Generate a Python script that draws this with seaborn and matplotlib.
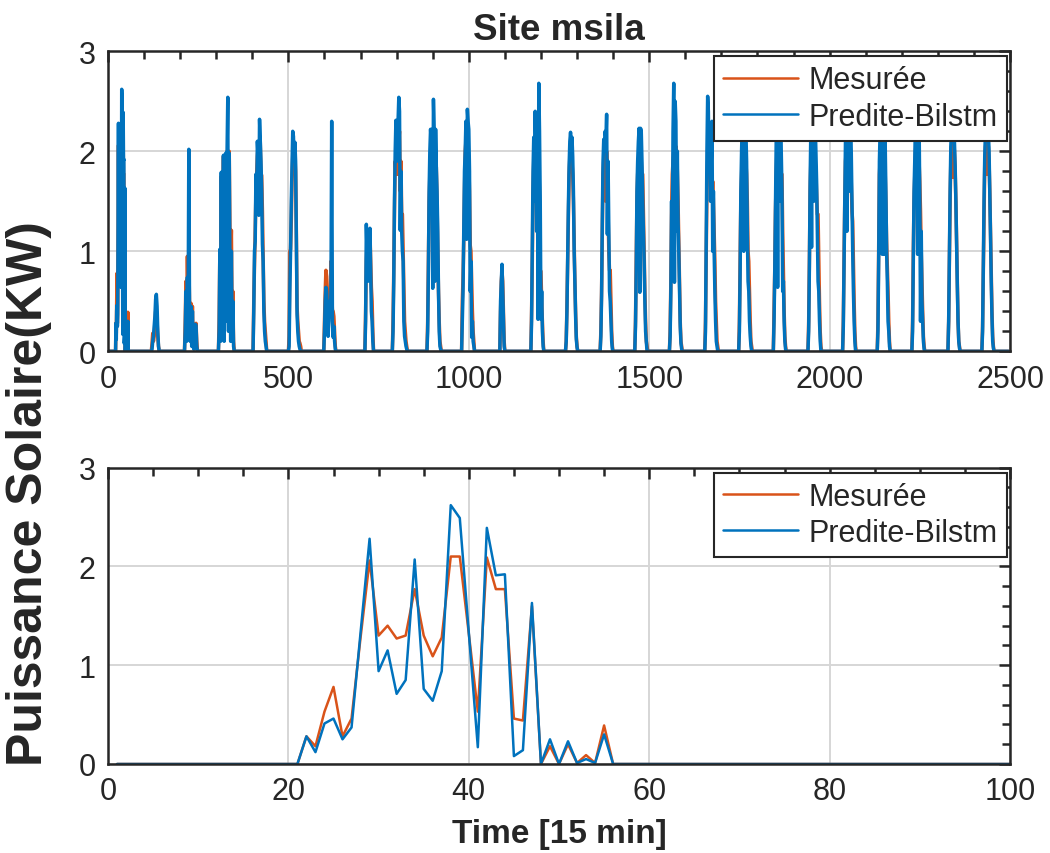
import numpy as np
import pandas as pd
import matplotlib
matplotlib.use("Agg")
import matplotlib.pyplot as plt
from matplotlib.ticker import MultipleLocator
import seaborn as sns

# ---------------------------------------------------------------------------
# Data: solar power (kW) at 15-minute steps, site M'Sila
# ---------------------------------------------------------------------------
STEPS_PER_DAY = 96
SLOT = 2                       # sampling step (in 15-min steps) of the daily profiles
N_STEPS = 2496

# First day, every 15-min step from step 21 to 56 (zero before and after)
day0_first_step = 21
day0_mesuree = [0, 0.28, 0.18, 0.53, 0.78, 0.28, 0.46, 1.28, 2.06, 1.30, 1.40, 1.27,
                1.30, 1.77, 1.30, 1.09, 1.28, 2.10, 2.10, 1.32, 0.53, 2.09, 1.77, 1.77,
                0.46, 0.44, 1.60, 0, 0.18, 0, 0.20, 0.01, 0.09, 0.01, 0.39, 0]
day0_predite = [0, 0.28, 0.12, 0.41, 0.46, 0.25, 0.37, 1.33, 2.28, 0.94, 1.15, 0.71,
                0.85, 2.07, 0.76, 0.64, 0.94, 2.62, 2.49, 1.33, 0.17, 2.39, 1.91, 1.92,
                0.08, 0.14, 1.63, 0, 0.25, 0, 0.23, 0.01, 0.05, 0.01, 0.30, 0]

# Following days: first daylight step of each day, then values every SLOT steps
day_start = [20, 20, 18, 18, 20, 22, 40, 20, 20, 20, 30, 20, 20,
             20, 20, 20, 22, 20, 20, 20, 20, 20, 20, 24, 22]

mesuree_days = [
    [0, 0, 0, 0.08, 0.18, 0.1, 0.15, 0.3, 0.4, 0.42, 0.3, 0.15, 0.05, 0, 0],
    [0, 0.3, 0.7, 0.3, 0.95, 0.5, 0.9, 0.5, 0.2, 0.48, 0.1, 0.45, 0.1, 0.05, 0.15, 0.25, 0.28, 0.1, 0],
    [0, 0.3, 1.0, 0.5, 1.75, 0.4, 1.0, 1.95, 0.3, 1.0, 1.96, 0.8, 2.0, 1.9, 0.6, 2.0, 1.21, 0.9, 1.21, 0.3, 0.6, 0.1, 0],
    [0, 0.5, 0.83, 1.2, 1.6, 1.77, 1.95, 2.05, 1.4, 2.05, 2.1, 1.76, 1.76, 1.4, 0.97, 0.5, 0.3, 0.2, 0.1, 0],
    [0, 0.15, 1.0, 1.02, 1.3, 1.7, 1.95, 2.05, 2.0, 1.98, 1.8, 1.2, 0.45, 0.3, 0.2, 0.1, 0.08, 0.05, 0],
    [0, 0.3, 0.6, 0.81, 0.75, 0.5, 0.3, 0.45, 0.6, 0.5, 0.9, 0.6, 0.41, 0.4, 0.35, 0.2, 0.05, 0],
    [0, 0.4, 0.9, 1.1, 1.2, 1.15, 1.1, 1.2, 0.9, 0.64, 0.5, 0.2, 0],
    [0, 0.3, 0.8, 1.4, 1.9, 1.77, 2.0, 1.77, 1.9, 2.1, 2.2, 1.6, 1.9, 1.37, 1.37, 1.0, 0.6, 0.3, 0.2, 0.1, 0.05, 0],
    [0, 0.3, 0.9, 1.5, 1.76, 1.9, 2.0, 2.1, 1.8, 2.05, 2.1, 1.9, 1.76, 1.84, 1.5, 1.0, 0.6, 0.3, 0.1, 0.05, 0],
    [0, 0.5, 0.74, 1.1, 1.6, 2.0, 2.1, 2.2, 2.1, 2.0, 1.9, 1.6, 1.06, 1.0, 0.7, 0.4, 0.2, 0.1, 0],
    [0, 0.4, 0.7, 0.8, 0.7, 0.4, 0.1, 0],
    [0, 0.40, 0.9, 1.6, 1.9, 2.0, 2.05, 2.1, 2.0, 2.1, 2.1, 1.9, 1.6, 0.81, 0.8, 0.5, 0.3, 0.1, 0],
    [0, 0.1, 0.45, 0.9, 1.4, 1.77, 1.94, 2.0, 1.94, 1.9, 1.77, 1.5, 1.1, 0.7, 0.4, 0.15, 0.05, 0, 0],
    [0, 0.2, 0.6, 1.2, 1.77, 1.9, 2.0, 2.1, 1.5, 2.0, 1.8, 1.4, 1.0, 0.81, 0.81, 0.5, 0.2, 0.05, 0],
    [0, 0.3, 0.9, 1.5, 1.77, 1.9, 2.0, 2.05, 1.77, 1.9, 1.77, 1.77, 1.4, 1.0, 0.6, 0.3, 0.1, 0.05, 0],
    [0, 0.2, 0.7, 1.4, 1.77, 1.9, 2.0, 2.1, 2.0, 2.05, 2.0, 1.8, 1.5, 1.1, 0.7, 0.3, 0.1, 0.05, 0],
    [0, 0.3, 1.0, 1.6, 1.9, 2.0, 2.1, 2.05, 1.76, 1.76, 1.5, 1.7, 1.5, 1.2, 0.9, 0.5, 0.3, 0.1, 0.05, 0],
    [0, 0.3, 0.9, 1.5, 1.77, 2.0, 2.1, 2.2, 2.1, 2.0, 1.9, 1.77, 1.5, 1.0, 0.9, 0.6, 0.3, 0.1, 0.05, 0],
    [0, 0.4, 0.82, 1.4, 1.77, 2.0, 2.1, 2.2, 2.0, 2.1, 1.9, 1.77, 1.77, 1.2, 0.8, 0.4, 0.15, 0.05, 0],
    [0, 0.3, 0.9, 1.6, 1.9, 2.0, 2.1, 2.2, 2.1, 2.0, 1.9, 1.8, 1.6, 1.37, 1.37, 0.9, 0.5, 0.2, 0.05, 0],
    [0, 0.3, 0.9, 1.5, 1.9, 2.0, 2.1, 2.2, 2.15, 2.1, 2.0, 1.9, 1.7, 1.4, 1.3, 0.9, 0.5, 0.2, 0.05, 0],
    [0, 0.3, 1.0, 1.77, 1.9, 2.0, 2.1, 2.15, 2.1, 2.0, 1.95, 1.8, 1.5, 1.1, 0.86, 0.6, 0.3, 0.1, 0],
    [0, 0.3, 1.0, 1.5, 1.77, 2.0, 2.1, 2.2, 2.1, 2.0, 1.9, 1.7, 1.4, 1.0, 0.7, 0.4, 0.15, 0.05, 0],
    [0, 0.3, 0.9, 1.5, 1.9, 2.05, 1.77, 1.74, 2.1, 2.0, 1.8, 1.5, 1.1, 0.7, 0.3, 0.1, 0.05, 0],
    [0, 0.25, 0.8, 1.4, 1.85, 2.05, 2.1, 1.77, 1.77, 2.05, 1.9, 1.6, 1.2, 0.8, 0.4, 0.15, 0.05, 0],
]

predite_days = [
    [0, 0, 0, 0.02, 0.1, 0.15, 0.25, 0.35, 0.52, 0.57, 0.45, 0.2, 0.05, 0, 0],
    [0, 0.2, 0.6, 0.1, 0.74, 0.3, 2.02, 0.4, 0.1, 0.45, 0.05, 0.4, 0.05, 0.02, 0.1, 0.27, 0.26, 0.05, 0],
    [0, 0.2, 1.02, 0.1, 1.79, 0.2, 0.9, 1.96, 0.1, 0.95, 1.98, 0.3, 2.0, 2.54, 0.2, 1.98, 0.8, 0.1, 1.0, 0.15, 0.5, 0.05, 0],
    [0, 0.4, 1.0, 1.1, 1.77, 1.5, 2.1, 1.95, 1.36, 2.32, 2.1, 1.9, 1.6, 1.07, 0.9, 0.4, 0.2, 0.1, 0.05, 0],
    [0, 0.05, 0.6, 1.0, 1.5, 1.85, 2.2, 2.15, 1.9, 2.09, 1.9, 1.1, 0.37, 0.2, 0.1, 0.05, 0.02, 0, 0],
    [0, 0.2, 0.5, 0.64, 0.6, 0.4, 0.15, 0.3, 0.5, 0.35, 0.6, 2.30, 0.3, 0.14, 0.25, 0.1, 0.02, 0],
    [0, 0.3, 1.27, 1.0, 0.7, 1.2, 0.9, 1.23, 0.8, 0.4, 0.3, 0.1, 0],
    [0, 0.2, 0.7, 1.5, 2.0, 2.31, 1.9, 2.2, 2.31, 2.54, 2.4, 1.21, 1.8, 1.2, 1.0, 0.9, 0.3, 0.15, 0.1, 0.05, 0.02, 0],
    [0, 0.2, 0.8, 1.6, 2.0, 2.22, 2.1, 2.22, 0.63, 2.52, 2.2, 0.7, 2.22, 1.84, 1.6, 1.2, 0.6, 0.2, 0.05, 0.02, 0],
    [0, 0.3, 0.6, 1.2, 1.8, 2.0, 2.3, 1.12, 2.42, 2.3, 2.22, 1.8, 0.6, 0.9, 0.14, 0.3, 0.1, 0.05, 0],
    [0, 0.5, 0.69, 0.87, 0.6, 0.3, 0.05, 0],
    [0, 0.3, 1.0, 1.8, 2.14, 1.5, 2.40, 1.9, 1.2, 2.0, 0.32, 2.68, 2.2, 1.5, 0.32, 0.6, 0.2, 0.05, 0],
    [0, 0.1, 0.4, 0.95, 1.45, 1.85, 2.1, 2.19, 2.05, 2.14, 1.95, 1.6, 1.0, 0.7, 0.35, 0.12, 0.04, 0, 0],
    [0, 0.15, 0.55, 1.3, 1.9, 2.12, 2.0, 2.2, 2.1, 2.37, 1.17, 1.9, 1.2, 0.6, 0.5, 0.3, 0.1, 0.02, 0],
    [0, 0.25, 0.8, 1.6, 1.9, 2.1, 2.23, 0.59, 2.23, 2.2, 1.9, 1.5, 1.2, 0.9, 0.5, 0.2, 0.1, 0, 0],
    [0, 0.15, 0.6, 1.5, 1.04, 2.2, 2.68, 0.69, 2.5, 2.3, 1.2, 2.0, 1.3, 1.0, 0.6, 0.25, 0.08, 0.02, 0],
    [0, 0.2, 1.1, 2.0, 2.55, 2.4, 1.8, 2.2, 1.5, 1.9, 2.3, 1.0, 1.6, 1.0, 0.6, 0.3, 0.1, 0.05, 0, 0],
    [0, 0.2, 0.8, 1.6, 2.0, 2.3, 2.4, 1.0, 2.3, 2.4, 2.2, 1.9, 1.2, 0.7, 0.6, 0.3, 0.15, 0.05, 0, 0],
    [0, 0.3, 0.8, 1.5, 2.1, 2.3, 0.64, 2.4, 2.3, 1.5, 2.3, 2.0, 1.6, 0.6, 0.7, 0.3, 0.1, 0.02, 0],
    [0, 0.2, 0.85, 1.7, 2.2, 1.04, 2.4, 2.3, 1.5, 2.4, 2.3, 2.0, 1.7, 1.2, 0.7, 0.6, 0.3, 0.1, 0, 0],
    [0, 0.25, 0.9, 1.6, 2.1, 2.3, 1.2, 2.4, 2.3, 2.2, 1.6, 2.3, 2.0, 1.5, 1.0, 0.6, 0.3, 0.1, 0, 0],
    [0, 0.2, 0.9, 1.9, 2.2, 2.3, 2.4, 0.97, 2.3, 2.2, 0.97, 2.1, 1.6, 1.0, 0.7, 0.3, 0.2, 0.05, 0],
    [0, 0.2, 0.9, 1.6, 1.9, 2.3, 2.4, 2.3, 0.97, 2.2, 2.3, 1.5, 0.3, 1.2, 0.5, 0.3, 0.1, 0.02, 0],
    [0, 0.3, 0.95, 1.6, 2.05, 2.25, 2.3, 2.3, 2.25, 2.1, 1.85, 1.5, 1.05, 0.65, 0.3, 0.1, 0.03, 0],
    [0, 0.2, 0.85, 1.5, 1.95, 2.2, 2.3, 2.35, 2.3, 2.2, 2.0, 1.6, 1.15, 0.7, 0.35, 0.1, 0.03, 0],
]

series_names = ["Mesurée", "Predite-Bilstm"]
series_colors = ["#D95319", "#0072BD"]


def full_series(day0_vals, day_vals):
    """Assemble the whole record: first day at every step, then the daily profiles."""
    steps = [0] + [day0_first_step + k for k in range(len(day0_vals))]
    power = [0.0] + list(day0_vals)
    for d, (start, vals) in enumerate(zip(day_start, day_vals), start=1):
        for k, v in enumerate(vals):
            steps.append(d * STEPS_PER_DAY + start + SLOT * k)
            power.append(v)
    steps.append(N_STEPS)
    power.append(0.0)
    return pd.DataFrame({"step": steps, "power": power})


def first_day(day0_vals):
    steps = np.arange(1, 101)
    power = np.zeros(100)
    power[day0_first_step - 1:day0_first_step - 1 + len(day0_vals)] = day0_vals
    return pd.DataFrame({"step": steps, "power": power})


top_frames = [full_series(day0_mesuree, mesuree_days),
              full_series(day0_predite, predite_days)]
zoom_frames = [first_day(day0_mesuree), first_day(day0_predite)]

# ---------------------------------------------------------------------------
# Style
# ---------------------------------------------------------------------------
sns.set_style("white")
plt.rcParams["font.family"] = ["Liberation Sans", "DejaVu Sans"]
plt.rcParams["axes.linewidth"] = 1.8

TICK_FS = 22

fig = plt.figure(figsize=(10.5, 8.54), dpi=100)
W, H = 1050.0, 854.0
ax_top = fig.add_axes([108 / W, 1 - 352.3 / H, 902 / W, 300 / H])
ax_bot = fig.add_axes([108 / W, 1 - 765.0 / H, 902 / W, 296.4 / H])


def draw(ax, frames, xmax, xmajor, xminor, lw):
    for df, name, color in zip(frames, series_names, series_colors):
        sns.lineplot(data=df, x="step", y="power", ax=ax, color=color,
                     linewidth=lw, label=name, estimator=None, sort=False)
    ax.set_xlim(0, xmax)
    ax.set_ylim(0, 3)
    ax.xaxis.set_major_locator(MultipleLocator(xmajor))
    ax.xaxis.set_minor_locator(MultipleLocator(xminor))
    ax.yaxis.set_major_locator(MultipleLocator(1))
    ax.yaxis.set_minor_locator(MultipleLocator(0.2))
    ax.grid(True, which="major", color="#d6d6d6", linewidth=1.4)
    ax.set_axisbelow(True)
    ax.tick_params(which="both", direction="in", top=True, right=True,
                   color="#262626", width=1.8, labelsize=TICK_FS, labelcolor="#262626")
    ax.tick_params(which="major", length=8, pad=9)
    ax.tick_params(which="minor", length=5.5)
    for sp in ax.spines.values():
        sp.set_color("#262626")
        sp.set_linewidth(1.8)
        sp.set_zorder(3)
    ax.set_xlabel("")
    ax.set_ylabel("")
    leg = ax.legend(loc="upper right", bbox_to_anchor=(1 - 3 / 902, 1 - 5 / 300),
                    borderaxespad=0, fontsize=TICK_FS, frameon=True, fancybox=False,
                    framealpha=1, edgecolor="#262626", handlelength=2.45,
                    handletextpad=0.35, borderpad=0.3, labelspacing=0.2)
    for line in leg.get_lines():
        line.set_linewidth(1.8)
    leg.get_frame().set_linewidth(1.5)
    leg.set_zorder(5)


draw(ax_top, top_frames, 2500, 500, 100, 2.5)
draw(ax_bot, zoom_frames, 100, 20, 5, 1.8)

ax_top.set_title("Site msila", fontsize=26.5, fontweight="bold", pad=9)
ax_bot.set_xlabel("Time [15 min]", fontsize=24, fontweight="bold", labelpad=8)
fig.text(29 / W, 1 - 494 / H, "Puissance Solaire(KW)", rotation=90,
         fontsize=36, fontweight="bold", ha="center", va="center")

fig.savefig("out.png", dpi=100, facecolor="white")
